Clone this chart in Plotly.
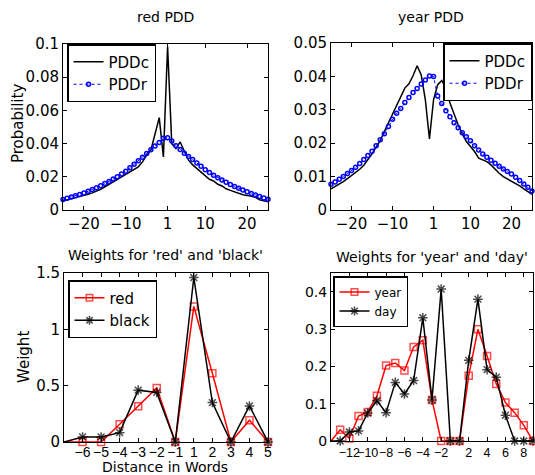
import plotly.graph_objects as go

W, H = 535, 475

# ---------------- data ----------------
dist_top_left = list(range(-25, 0))
dist_top_right = list(range(1, 26))
dist_top = dist_top_left + dist_top_right

red_pddc = [.0056, .0062, .0068, .0074, .0080, .0086, .0094, .0103, .0112, .0125, .0140, .0155, .0170, .0180, .0195, .0210, .0225, .0240, .0260, .0290, .0330, .0360, .0460, .0556, .0320,
            .0985, .0400, .0370, .0410, .0350, .0300, .0272, .0250, .0230, .0205, .0185, .0175, .0155, .0145, .0128, .0118, .0108, .0098, .0092, .0088, .0082, .0076, .0062, .0054, .0049]
red_pddr = [.0064, .0071, .0078, .0086, .0094, .0103, .0113, .0123, .0134, .0146, .0159, .0172, .0186, .0201, .0217, .0234, .0254, .0275, .0297, .0318, .0340, .0363, .0385, .0407, .0432,
            .0435, .0415, .0387, .0365, .0342, .0322, .0304, .0283, .0263, .0243, .0226, .0210, .0195, .0181, .0167, .0154, .0142, .0131, .0120, .0110, .0100, .0091, .0082, .0073, .0065]
year_pddc = [.0063, .0070, .0077, .0085, .0094, .0103, .0112, .0122, .0134, .0150, .0168, .0188, .0208, .0235, .0262, .0288, .0312, .0342, .0365, .0378, .0402, .0432, .0404, .0330, .0213,
             .0330, .0375, .0388, .0365, .0320, .0285, .0255, .0228, .0205, .0190, .0175, .0155, .0150, .0145, .0135, .0122, .0110, .0100, .0093, .0087, .0080, .0072, .0063, .0055, .0047]
year_pddr = [.0077, .0084, .0092, .0100, .0109, .0118, .0128, .0139, .0151, .0163, .0176, .0192, .0210, .0228, .0250, .0272, .0290, .0304, .0322, .0337, .0352, .0364, .0377, .0389, .0401,
             .0400, .0341, .0319, .0297, .0279, .0261, .0246, .0231, .0219, .0207, .0192, .0180, .0168, .0158, .0149, .0140, .0131, .0123, .0115, .0108, .0098, .0088, .0078, .0068, .0057]
top_tick_labels = [-20, -10, 1, 10, 20]

dist_rb = [-7, -6, -5, -4, -3, -2, -1, 1, 2, 3, 4, 5]
w_red = [0, 0, 0, 0.157, 0.318, 0.48, 0, 1.203, 0.61, 0, 0.193, 0]
w_black = [0, 0.045, 0.045, 0.083, 0.46, 0.44, 0, 1.46, 0.35, 0, 0.32, 0]
rb_tick_labels = [-6, -5, -4, -3, -2, -1, 1, 2, 3, 4, 5]

dist_yd = list(range(-14, 0)) + list(range(1, 10))
w_year = [0, 0.030, 0.007, 0.067, 0.078, 0.121, 0.202, 0.209, 0.189, 0.252, 0.270, 0.110, 0, 0,
          0, 0.175, 0.299, 0.228, 0.153, 0.103, 0.076, 0.042, 0]
w_day = [0, 0, 0.024, 0.027, 0.075, 0.108, 0.076, 0.157, 0.126, 0.162, 0.330, 0.110, 0.407, 0,
         0, 0.216, 0.380, 0.191, 0.171, 0.069, 0, 0, 0]
yd_tick_labels = [-12, -10, -8, -6, -4, -2, 2, 4, 6, 8]


def pos(d):
    # words are indexed by distance with the word itself (0) removed
    return d if d < 0 else d - 1


def lab(v):
    return str(v).replace('-', '\u2212')


FONT = "DejaVu Sans, Liberation Sans, sans-serif"
NARROW = "Liberation Sans, Arial, sans-serif"

fig = go.Figure()

# top-left
fig.add_trace(go.Scatter(x=[pos(d) for d in dist_top], y=red_pddc, mode='lines', name='PDDc',
                         line=dict(color='black', width=1.5), xaxis='x', yaxis='y', legend='legend', cliponaxis=False))
fig.add_trace(go.Scatter(x=[pos(d) for d in dist_top], y=red_pddr, mode='lines+markers', name='PDDr',
                         line=dict(color='blue', width=1, dash='dot'),
                         marker=dict(symbol='circle-open', size=4, color='blue', line=dict(width=1.5)),
                         xaxis='x', yaxis='y', legend='legend', cliponaxis=False))
# top-right
fig.add_trace(go.Scatter(x=[pos(d) for d in dist_top], y=year_pddc, mode='lines', name='PDDc',
                         line=dict(color='black', width=1.5), xaxis='x2', yaxis='y2', legend='legend2', cliponaxis=False))
fig.add_trace(go.Scatter(x=[pos(d) for d in dist_top], y=year_pddr, mode='lines+markers', name='PDDr',
                         line=dict(color='blue', width=1, dash='dot'),
                         marker=dict(symbol='circle-open', size=4, color='blue', line=dict(width=1.5)),
                         xaxis='x2', yaxis='y2', legend='legend2', cliponaxis=False))
# bottom-left
sz_rb = [0] + [7] * (len(dist_rb) - 1)
fig.add_trace(go.Scatter(x=[pos(d) for d in dist_rb], y=w_red, mode='lines+markers', name='red',
                         line=dict(color='red', width=1.5),
                         marker=dict(symbol='square-open', size=sz_rb, color='red', line=dict(width=1.5)),
                         xaxis='x3', yaxis='y3', legend='legend3', cliponaxis=False))
fig.add_trace(go.Scatter(x=[pos(d) for d in dist_rb], y=w_black, mode='lines+markers', name='black',
                         line=dict(color='black', width=1.5),
                         marker=dict(symbol='asterisk-open', size=[0] + [8] * (len(dist_rb) - 1), color='black', line=dict(width=1.5, color='black')),
                         xaxis='x3', yaxis='y3', legend='legend3', cliponaxis=False))
# bottom-right
sz_yd = [0] + [7] * (len(dist_yd) - 1)
fig.add_trace(go.Scatter(x=[pos(d) for d in dist_yd], y=w_year, mode='lines+markers', name='year',
                         line=dict(color='red', width=1.5),
                         marker=dict(symbol='square-open', size=sz_yd, color='red', line=dict(width=1.5)),
                         xaxis='x4', yaxis='y4', legend='legend4', cliponaxis=False))
fig.add_trace(go.Scatter(x=[pos(d) for d in dist_yd], y=w_day, mode='lines+markers', name='day',
                         line=dict(color='black', width=1.5),
                         marker=dict(symbol='asterisk-open', size=[0] + [8] * (len(dist_yd) - 1), color='black', line=dict(width=1.5, color='black')),
                         xaxis='x4', yaxis='y4', legend='legend4', cliponaxis=False))


def px_x(p):
    return p / W


def px_y(p):
    return 1 - p / H


axis_common = dict(showline=True, linecolor='black', linewidth=1, mirror='ticks', ticks='inside',
                   ticklen=4, tickcolor='black', showgrid=False, zeroline=False, tickangle=0,
                   automargin=False)
tf = dict(family=FONT, size=15, color='black')

layout = dict(
    width=W, height=H, margin=dict(l=0, r=0, t=0, b=0, pad=0, autoexpand=False),
    paper_bgcolor='white', plot_bgcolor='white',
    font=dict(family=FONT, size=14, color='black'),
    xaxis=dict(domain=[px_x(63), px_x(268)], anchor='y', range=[pos(-25), pos(25)], tickfont=tf,
               tickvals=[pos(v) for v in top_tick_labels], ticktext=[lab(v) for v in top_tick_labels], **axis_common),
    yaxis=dict(domain=[px_y(210), px_y(44)], anchor='x', range=[0, 0.1], tickfont=tf,
               tickvals=[0, 0.02, 0.04, 0.06, 0.08, 0.1], **axis_common),
    xaxis2=dict(domain=[px_x(331), px_x(532)], anchor='y2', range=[pos(-25), pos(25)], tickfont=tf,
                tickvals=[pos(v) for v in top_tick_labels], ticktext=[lab(v) for v in top_tick_labels], **axis_common),
    yaxis2=dict(domain=[px_y(210), px_y(43)], anchor='x2', range=[0, 0.05], tickfont=tf,
                tickvals=[0, 0.01, 0.02, 0.03, 0.04, 0.05], **axis_common),
    xaxis3=dict(domain=[px_x(64), px_x(268)], anchor='y3', range=[pos(-7), pos(5)],
                tickfont=dict(family=NARROW, size=14, color='black'), ticklabelstandoff=-3,
                tickvals=[pos(v) for v in rb_tick_labels], ticktext=[lab(v) for v in rb_tick_labels], **axis_common),
    yaxis3=dict(domain=[px_y(442), px_y(273)], anchor='x3', range=[0, 1.5], tickfont=tf,
                tickvals=[0, 0.5, 1, 1.5], **axis_common),
    xaxis4=dict(domain=[px_x(331), px_x(533)], anchor='y4', range=[pos(-14), pos(9)],
                tickfont=dict(family=NARROW, size=12.5, color='black'),
                tickvals=[pos(v) for v in yd_tick_labels], ticktext=[lab(v) for v in yd_tick_labels], **axis_common),
    yaxis4=dict(domain=[px_y(441), px_y(273)], anchor='x4', range=[0, 0.45],
                tickfont=dict(family=FONT, size=14, color='black'),
                tickvals=[0, 0.1, 0.2, 0.3, 0.4], **axis_common),
)

leg_common = dict(bgcolor='white', bordercolor='black', borderwidth=1.5, yanchor='top',
                  tracegroupgap=0, itemwidth=30)
layout['legend'] = dict(x=px_x(67), y=px_y(44), xanchor='left', font=dict(family=FONT, size=15), **leg_common)
layout['legend2'] = dict(x=px_x(532), y=px_y(43), xanchor='right', font=dict(family=FONT, size=15), **leg_common)
layout['legend3'] = dict(x=px_x(68), y=px_y(280), xanchor='left', font=dict(family=FONT, size=15), **leg_common)
layout['legend4'] = dict(x=px_x(333), y=px_y(276), xanchor='left', font=dict(family=FONT, size=12), **leg_common)

fig.update_layout(**layout)

ann = [
    dict(text='red PDD', x=px_x(165), y=px_y(17), size=14),
    dict(text='year PDD', x=px_x(431), y=px_y(17), size=14),
    dict(text="Weights for 'red' and 'black'", x=px_x(165), y=px_y(255), size=14),
    dict(text="Weights for 'year' and 'day'", x=px_x(432), y=px_y(257), size=14),
    dict(text='Distance in Words', x=px_x(165), y=px_y(467), size=14),
    dict(text='Probability', x=px_x(18), y=px_y(124), textangle=-90, size=15),
    dict(text='Weight', x=px_x(24), y=px_y(357), textangle=-90, size=15),
]
for a in ann:
    s = a.pop('size')
    fig.add_annotation(xref='paper', yref='paper', showarrow=False, xanchor='center', yanchor='middle',
                       font=dict(family=FONT, size=s, color='black'), **a)

fig.write_html("out.html", config={'displayModeBar': False},
               post_script="document.body.style.margin='0';document.body.style.padding='0';document.body.style.overflow='hidden';")
